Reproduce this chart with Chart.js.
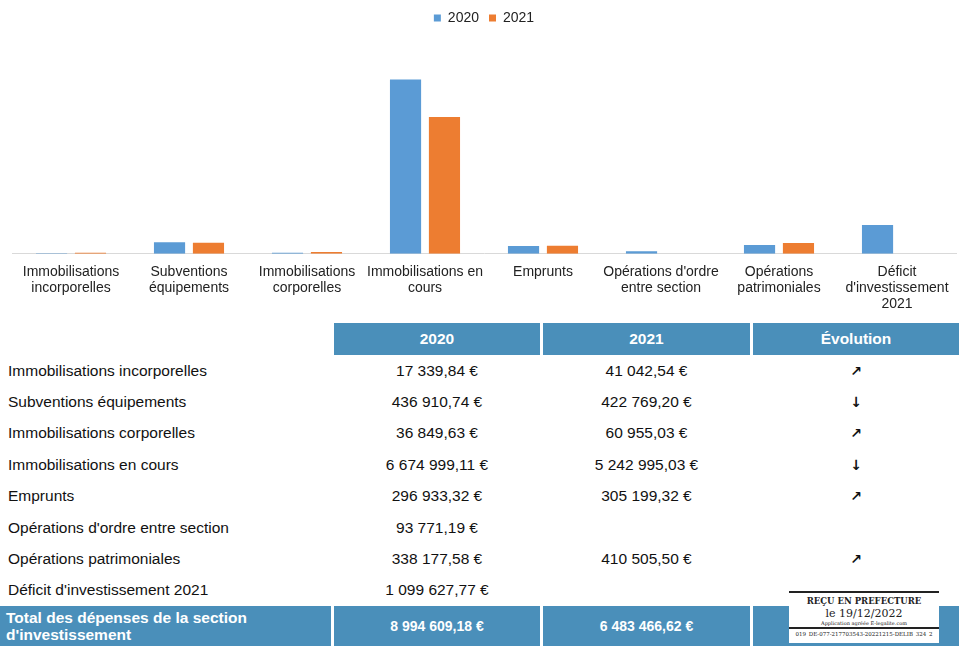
<!DOCTYPE html>
<html lang="fr">
<head>
<meta charset="utf-8">
<script src="https://cdn.jsdelivr.net/npm/chart.js@4.4.0/dist/chart.umd.min.js"></script>
<style>
  html, body { margin: 0; padding: 0; background: #fff; }
  body { width: 959px; height: 649px; position: relative; overflow: hidden; font-family: "Liberation Sans", Arial, sans-serif; color: #111; }
  #chartBox { position: absolute; left: 0; top: 0; width: 959px; height: 314px; }
  #tbl { position: absolute; left: 0; top: 323px; width: 959px; border-collapse: separate; border-spacing: 0; table-layout: fixed; }
  #tbl td, #tbl th { padding: 0; font-size: 15.5px; }
  #tbl th { height: 32px; background: #4a8fba; color: #fff; font-weight: bold; font-size: 15.5px; text-align: center; }
  #tbl th.blank { background: #fff; }
  #tbl .sep { border-left: 3px solid #fff; }
  #tbl tbody td { height: 31.4px; text-align: center; }
  #tbl tbody td.lbl { text-align: left; padding-left: 8px; }
  #tbl td.arrow { font-family: "DejaVu Sans", sans-serif; font-size: 14px; color: #111; font-weight: bold; }
  #tbl tr.total td { height: 40px; background: #4a8fba; color: #fff; font-weight: bold; font-size: 14px; line-height: 17px; }
  #tbl tr.total td.lbl { font-size: 15.5px; padding-left: 6px; }
  .stamp { position: absolute; left: 789px; top: 591px; width: 150px; height: 50px; background: #fff; border-top: 2px solid #222; text-align: center; font-family: "DejaVu Serif", serif; color: #222; }
  .stamp .a { font-size: 8.5px; font-weight: bold; margin-top: 3px; }
  .stamp .b { font-size: 11px; margin-top: 1px; }
  .stamp .c { font-size: 5px; border-bottom: 2px solid #222; padding-bottom: 1px; }
  .stamp .d { font-size: 5.5px; white-space: nowrap; overflow: hidden; margin-top: 2px; }
</style>
</head>
<body>
<div id="chartBox"><canvas id="chart"></canvas></div>
<table id="tbl">
  <colgroup><col style="width:331px"><col style="width:209px"><col style="width:210px"><col style="width:209px"></colgroup>
  <thead><tr><th class="blank"></th><th class="sep">2020</th><th class="sep">2021</th><th class="sep">Évolution</th></tr></thead>
  <tbody id="rows"></tbody>
</table>
<div class="stamp">
  <div class="a">REÇU EN PREFECTURE</div>
  <div class="b">le 19/12/2022</div>
  <div class="c">Application agréée E-legalite.com</div>
  <div class="d">019_DE-077-217703543-20221215-DELIB_324_2</div>
</div>
<script>
const categories = [
  ["Immobilisations", "incorporelles"],
  ["Subventions", "équipements"],
  ["Immobilisations", "corporelles"],
  ["Immobilisations en", "cours"],
  ["Emprunts"],
  ["Opérations d'ordre", "entre section"],
  ["Opérations", "patrimoniales"],
  ["Déficit", "d'investissement", "2021"]
];
const values2020 = [17339.84, 436910.74, 36849.63, 6674999.11, 296933.32, 93771.19, 338177.58, 1099627.77];
const values2021 = [41042.54, 422769.20, 60955.03, 5242995.03, 305199.32, null, 410505.50, null];
const evolution = ["↗", "↓", "↗", "↓", "↗", "", "↗", ""];
const seriesNames = ["2020", "2021"];
const totalLabel = "Total des dépenses de la section d'investissement";

function euro(v) {
  if (v === null) return "";
  const parts = v.toFixed(2).split(".");
  const intPart = parts[0].replace(/\B(?=(\d{3})+(?!\d))/g, " ");
  return intPart + "," + parts[1] + " €";
}

const font = "'Liberation Sans', Arial, sans-serif";

// space under the legend, like the office chart
const legendGap = {
  id: 'legendGap',
  beforeInit(chart) {
    const fit = chart.legend.fit;
    chart.legend.fit = function () {
      fit.bind(chart.legend)();
      this.height += 10;
    };
  }
};

new Chart(document.getElementById('chart'), {
  type: 'bar',
  data: {
    labels: categories,
    datasets: [
      { label: seriesNames[0], data: values2020, backgroundColor: '#5b9bd5' },
      { label: seriesNames[1], data: values2021, backgroundColor: '#ed7d31' }
    ]
  },
  options: {
    responsive: true,
    maintainAspectRatio: false,
    animation: false,
    layout: { padding: { left: 12, right: 3, top: 1, bottom: 0 } },
    datasets: { bar: { categoryPercentage: 0.66, barPercentage: 0.8 } },
    plugins: {
      legend: {
        position: 'top',
        labels: { boxWidth: 7, boxHeight: 7, padding: 10, color: '#222', font: { family: font, size: 14 } }
      },
      tooltip: { enabled: false }
    },
    scales: {
      x: {
        grid: { display: false },
        border: { display: true, color: '#d9d9d9' },
        ticks: { autoSkip: false, maxRotation: 0, color: '#222', padding: 2, font: { family: font, size: 14, lineHeight: 1.15 } }
      },
      y: {
        display: false,
        min: 0,
        max: 8000000
      }
    }
  },
  plugins: [legendGap]
});

const tbody = document.getElementById('rows');
categories.forEach((c, i) => {
  const tr = document.createElement('tr');
  tr.innerHTML = '<td class="lbl">' + c.join(' ') + '</td>' +
    '<td class="sep">' + euro(values2020[i]) + '</td>' +
    '<td class="sep">' + euro(values2021[i]) + '</td>' +
    '<td class="sep arrow">' + evolution[i] + '</td>';
  tbody.appendChild(tr);
});
const sum = arr => arr.reduce((a, b) => a + (b || 0), 0);
const tr = document.createElement('tr');
tr.className = 'total';
tr.innerHTML = '<td class="lbl">' + totalLabel + '</td>' +
  '<td class="sep">' + euro(sum(values2020)) + '</td>' +
  '<td class="sep">' + euro(sum(values2021)) + '</td>' +
  '<td class="sep"></td>';
tbody.appendChild(tr);
</script>
</body>
</html>
